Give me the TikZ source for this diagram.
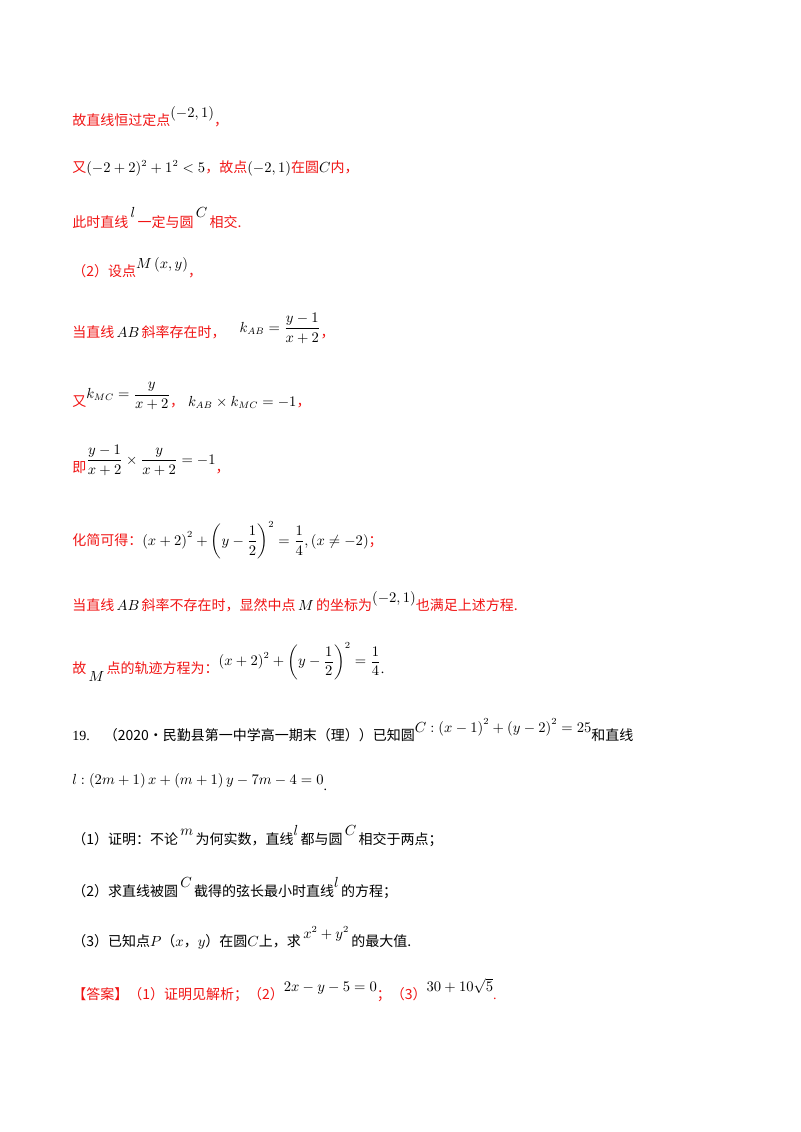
\documentclass[tikz,border=0pt]{standalone}
\usepackage{amsmath}
\usepackage{fontspec}
\setmainfont{Liberation Serif}
\newfontfamily\cjk{Noto Sans CJK SC}
\definecolor{rd}{RGB}{240,20,20}
\newcommand{\R}[1]{\textcolor{rd}{\cjk #1}}
\begin{document}
\begin{tikzpicture}[x=0.75pt,y=-0.75pt,
  t/.style={anchor=west,inner sep=0pt,font=\fontsize{10.5}{12}\selectfont}]
\useasboundingbox (0,0) rectangle (800,1132);
\node[t] (l1) at (72,117) {\R{故直线恒过定点}\raisebox{6pt}{$(-2,1)$}\R{，}};
\node[t] (l2) at (72,168) {\R{又}$(-2+2)^2+1^2<5$\R{，故点}$(-2,1)$\R{在圆}$C$\R{内，}};
\node[t] (l3) at (72,218) {\R{此时直线}\,\raisebox{7pt}{$l$}\,\R{一定与圆}\,\raisebox{7pt}{$C$}\,\R{相交.}};
\node[t] (l4) at (72,268) {\R{（2）设点}\raisebox{6pt}{$M\left(x,y\right)$}\R{，}};
\node[t] (l5) at (72,328) {\R{当直线}\,$AB$\,\R{斜率存在时，}\quad\raisebox{4pt}{$k_{AB}=\dfrac{y-1}{x+2}$}\R{，}};
\node[t] (l6) at (72,396) {\R{又}\raisebox{6pt}{$k_{MC}=\dfrac{y}{x+2}$}\R{，}\;$k_{AB}\times k_{MC}=-1$\R{，}};
\node[t] (l7) at (72,460) {\R{即}\raisebox{6pt}{$\dfrac{y-1}{x+2}\times\dfrac{y}{x+2}=-1$}\R{，}};
\node[t] (l8) at (72,540) {\R{化简可得：}$\left(x+2\right)^2+\left(y-\dfrac12\right)^2=\dfrac14,\left(x\neq-2\right)$\R{；}};
\node[t] (l9) at (72,602) {\R{当直线}\,$AB$\,\R{斜率不存在时，显然中点}\,$M$\,\R{的坐标为}\raisebox{6pt}{$\left(-2,1\right)$}\R{也满足上述方程.}};
\node[t] (l10) at (72,662) {\R{故}\,\raisebox{-6pt}{$M$}\,\R{点的轨迹方程为：}\raisebox{6pt}{$\left(x+2\right)^2+\left(y-\dfrac12\right)^2=\dfrac14$}.};
\node[t] (l11) at (72,730) {19.\quad{\cjk （2020·民勤县第一中学高一期末（理））已知圆}\raisebox{6pt}{$C:\left(x-1\right)^2+\left(y-2\right)^2=25$}{\cjk 和直线}};
\node[t] (l12) at (72,782) {\raisebox{4pt}{$l:\left(2m+1\right)x+\left(m+1\right)y-7m-4=0$}.};
\node[t] (l13) at (72,836) {{\cjk （1）证明：不论}\,\raisebox{7pt}{$m$}\,{\cjk 为何实数，直线}\raisebox{7pt}{$l$}\,{\cjk 都与圆}\,\raisebox{7pt}{$C$}\,{\cjk 相交于两点；}};
\node[t] (l14) at (72,888) {{\cjk （2）求直线被圆}\,\raisebox{7pt}{$C$}\,{\cjk 截得的弦长最小时直线}\raisebox{7pt}{$l$}\,{\cjk 的方程；}};
\node[t] (l15) at (72,938) {{\cjk （3）已知点}$P${\cjk （}$x${\cjk ，}$y${\cjk ）在圆}$C${\cjk 上，求}\,\raisebox{6pt}{$x^2+y^2$}\,{\cjk 的最大值.}};
\node[t] (l16) at (72,990) {\R{【答案】（1）证明见解析；（2）}\raisebox{6pt}{$2x-y-5=0$}\R{；（3）}\raisebox{6pt}{$30+10\sqrt5$}\textcolor{rd}{.}};
\end{tikzpicture}
\end{document}
